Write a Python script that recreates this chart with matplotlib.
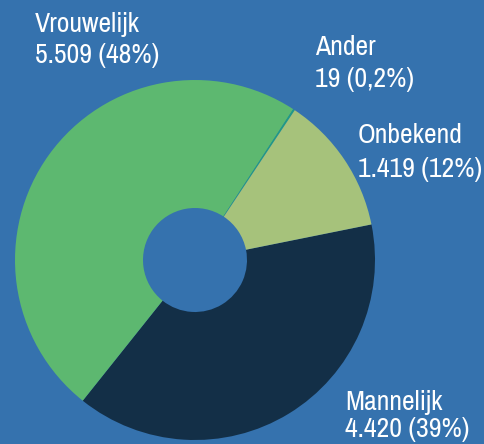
import matplotlib
matplotlib.use("Agg")
import matplotlib.pyplot as plt
from matplotlib import font_manager as fm

categories = ["Mannelijk", "Vrouwelijk", "Ander", "Onbekend"]
values = [4420, 5509, 19, 1419]
value_labels = ["4.420 (39%)", "5.509 (48%)", "19 (0,2%)", "1.419 (12%)"]
colors = ["#132F47", "#5DB870", "#1F9C86", "#A6C27B"]
bg = "#3572AE"

# pick the narrowest available regular sans font
def pick_font():
    best = None
    for f in fm.fontManager.ttflist:
        nm = f.name
        st = str(f.stretch)
        fname = f.fname.lower()
        if f.weight not in (400, "normal", "regular"):
            continue
        if "italic" in fname or "oblique" in fname or f.style != "normal":
            continue
        score = None
        if "condensed" in nm.lower() or "narrow" in nm.lower():
            score = 0
        elif "condensed" in fname or "narrow" in fname:
            score = 1
        elif st in ("condensed", "semi-condensed", "extra-condensed"):
            score = 2
        if score is not None and (best is None or score < best[0]):
            best = (score, f.fname)
    return best[1] if best else None

fpath = pick_font()

W, H = 485, 444
fig = plt.figure(figsize=(W / 100, H / 100), dpi=100, facecolor=bg)
ax = fig.add_axes([0, 0, 1, 1])
ax.set_facecolor(bg)

cx, cy, r = 195, H - 260, 180
hole = 52
ax.pie(values, colors=colors, startangle=11.4, counterclock=False,
       center=(cx, cy), radius=r, frame=True,
       wedgeprops=dict(width=r - hole, linewidth=0))
ax.set_xlim(0, W)
ax.set_ylim(0, H)
ax.set_aspect("auto")
ax.axis("off")

if fpath:
    fp = fm.FontProperties(fname=fpath, size=20)
else:
    fp = fm.FontProperties(family="DejaVu Sans", size=17)

label_pos = {
    "Vrouwelijk": (35, 32, 63),
    "Ander": (315, 55, 87),
    "Onbekend": (382, 143, 177),
    "Mannelijk": (345, 410, 437),
}
fig.canvas.draw()
renderer = fig.canvas.get_renderer()
for cat, vl in zip(categories, value_labels):
    x, y1, y2 = label_pos[cat]
    t1 = ax.text(x, H - y1, cat, color="white", fontproperties=fp, va="baseline", ha="left")
    t2 = ax.text(x, H - y2, vl, color="white", fontproperties=fp, va="baseline", ha="left")
    right = max(t1.get_window_extent(renderer).x1, t2.get_window_extent(renderer).x1)
    if right > W - 3:
        shift = right - (W - 3)
        t1.set_x(x - shift)
        t2.set_x(x - shift)

fig.savefig("out.png", dpi=100, facecolor=bg)
